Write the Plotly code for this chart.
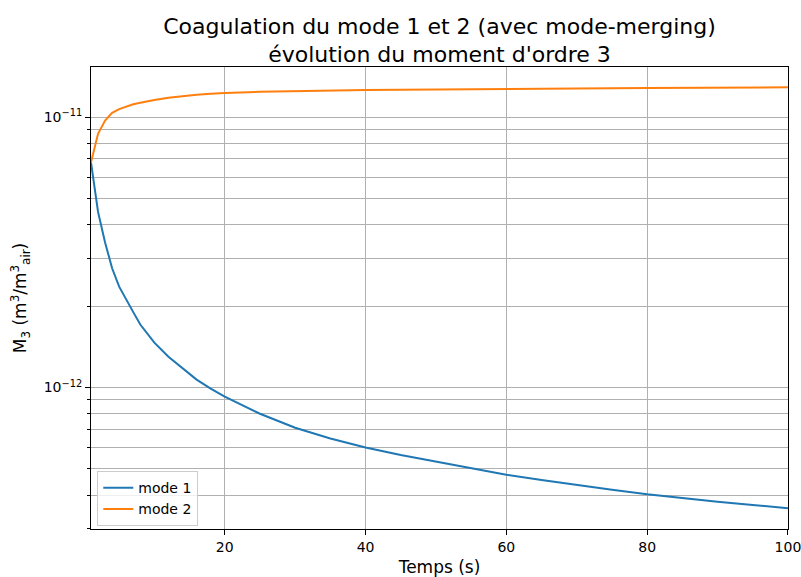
import plotly.graph_objects as go

# Temps (s) et moment d'ordre 3 de chaque mode (m3/m3 air)
temps = [1, 2, 3, 4, 5, 6, 7, 8, 9, 10, 12, 14, 16, 18, 20,
         25, 30, 35, 40, 45, 50, 55, 60, 65, 70, 75, 80, 85, 90, 95, 100]
m3_mode1 = [6.80e-12, 4.46e-12, 3.44e-12, 2.76e-12, 2.36e-12, 2.11e-12, 1.90e-12, 1.71e-12,
            1.58e-12, 1.465e-12, 1.30e-12, 1.18e-12, 1.07e-12, 0.99e-12, 0.925e-12,
            8.00e-13, 7.10e-13, 6.48e-13, 6.00e-13, 5.63e-13, 5.32e-13, 5.02e-13, 4.76e-13,
            4.55e-13, 4.36e-13, 4.19e-13, 4.03e-13, 3.90e-13, 3.78e-13, 3.68e-13, 3.58e-13]
m3_mode2 = [6.80e-12, 8.67e-12, 9.70e-12, 1.037e-11, 1.070e-11, 1.095e-11, 1.115e-11, 1.130e-11,
            1.145e-11, 1.157e-11, 1.178e-11, 1.195e-11, 1.210e-11, 1.220e-11, 1.228e-11,
            1.240e-11, 1.248e-11, 1.254e-11, 1.258e-11, 1.262e-11, 1.266e-11, 1.269e-11, 1.272e-11,
            1.275e-11, 1.277e-11, 1.279e-11, 1.281e-11, 1.283e-11, 1.285e-11, 1.287e-11, 1.288e-11]

x_ticks = [20, 40, 60, 80, 100]
y_major = [1e-12, 1e-11]
y_major_labels = ["10<sup>\u221212</sup>", "10<sup>\u221211</sup>"]
y_minor = [k * 1e-13 for k in range(3, 10)] + [k * 1e-12 for k in range(2, 10)]

FONT = "DejaVu Sans"
GRID = "#b0b0b0"

fig = go.Figure()
fig.add_trace(go.Scatter(x=temps, y=m3_mode1, mode="lines", name="mode 1",
                         line=dict(color="#1f77b4", width=2)))
fig.add_trace(go.Scatter(x=temps, y=m3_mode2, mode="lines", name="mode 2",
                         line=dict(color="#ff7f0e", width=2)))

fig.update_layout(
    width=801, height=577,
    margin=dict(l=91, r=13, t=67, b=48),
    paper_bgcolor="white", plot_bgcolor="white",
    font=dict(family=FONT, color="black", size=14),
    title=dict(
        text="Coagulation du mode 1 et 2 (avec mode-merging)<br>\u00e9volution du moment d'ordre 3",
        font=dict(family=FONT, size=22, color="black"),
        x=0.5, xref="paper", xanchor="center",
        y=1 - 33.5 / 577, yref="container", yanchor="middle",
    ),
    legend=dict(
        x=0.009, y=0.006, xanchor="left", yanchor="bottom",
        bgcolor="rgba(255,255,255,0.8)", bordercolor="#cccccc", borderwidth=1,
        font=dict(family=FONT, size=14, color="black"),
        itemwidth=30, tracegroupgap=0,
    ),
    showlegend=True,
)

fig.update_xaxes(
    range=[1, 100.01], automargin=False,
    tickvals=x_ticks, ticktext=[str(v) for v in x_ticks],
    ticks="outside", ticklen=5, tickwidth=1, tickcolor="black",
    ticklabeloverflow="allow",
    showline=True, linecolor="black", linewidth=1, mirror=True,
    showgrid=True, gridcolor=GRID, gridwidth=1, zeroline=False,
    tickfont=dict(family=FONT, size=14, color="black"),
    title=dict(text="Temps (s)", font=dict(family=FONT, size=17, color="black"), standoff=8),
)

fig.update_yaxes(
    type="log", automargin=False,
    range=[-12.523, -10.815],
    tickvals=y_major, ticktext=y_major_labels,
    ticks="outside", ticklen=5, tickwidth=1, tickcolor="black",
    showline=True, linecolor="black", linewidth=1, mirror=True,
    showgrid=True, gridcolor=GRID, gridwidth=1, zeroline=False,
    minor=dict(tickvals=y_minor, ticks="outside", ticklen=3, tickwidth=1, tickcolor="black",
               showgrid=True, gridcolor=GRID, gridwidth=1),
    tickfont=dict(family=FONT, size=14, color="black"),
    title=dict(text="M<sub>3</sub> (m<sup>3</sup>/m<sup>3</sup><sub>air</sub>)",
               font=dict(family=FONT, size=17, color="black"), standoff=12),
)

fig.write_html("out.html")
